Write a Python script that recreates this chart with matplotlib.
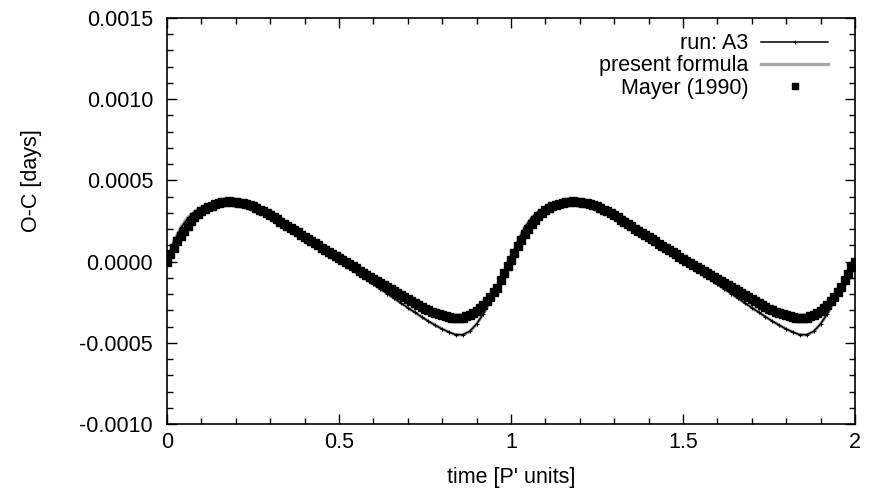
import numpy as np
import matplotlib
matplotlib.use("Agg")
import matplotlib.pyplot as plt
from matplotlib.ticker import MultipleLocator, FormatStrFormatter

plt.rcParams['font.family'] = ['Liberation Sans', 'DejaVu Sans']
plt.rcParams['axes.unicode_minus'] = False

# time axis (P' units): model curves every 0.02, Mayer points every 0.01
t = np.round(np.arange(0, 2.0001, 0.02), 2)
t_mayer = np.round(np.arange(0, 2.0001, 0.01), 2)

# O-C in units of 1e-4 days
mayer = [
    0.0, 0.45, 0.85, 1.25, 1.6, 1.9, 2.2, 2.5, 2.75, 2.95,
    3.1, 3.25, 3.35, 3.45, 3.55, 3.6, 3.65, 3.68, 3.7, 3.68,
    3.66, 3.63, 3.6, 3.55, 3.5, 3.4, 3.3, 3.2, 3.1, 2.98,
    2.85, 2.72, 2.6, 2.45, 2.3, 2.18, 2.05, 1.92, 1.8, 1.65,
    1.5, 1.38, 1.25, 1.12, 1.0, 0.85, 0.7, 0.58, 0.45, 0.32,
    0.2, 0.08, -0.05, -0.18, -0.3, -0.42, -0.55, -0.68, -0.8, -0.92,
    -1.05, -1.18, -1.3, -1.42, -1.55, -1.68, -1.8, -1.92, -2.05, -2.18,
    -2.3, -2.42, -2.55, -2.68, -2.8, -2.9, -3.0, -3.08, -3.15, -3.22,
    -3.3, -3.35, -3.4, -3.45, -3.5, -3.48, -3.45, -3.38, -3.3, -3.18,
    -3.05, -2.88, -2.7, -2.45, -2.2, -1.9, -1.6, -1.15, -0.7, -0.3,
    0.1, 0.55, 0.95, 1.35, 1.7, 2.0, 2.3, 2.55, 2.8, 3.0,
    3.15, 3.28, 3.4, 3.48, 3.55, 3.6, 3.65, 3.68, 3.7, 3.69,
    3.66, 3.63, 3.6, 3.54, 3.48, 3.4, 3.3, 3.2, 3.1, 2.97,
    2.85, 2.72, 2.58, 2.44, 2.3, 2.16, 2.03, 1.9, 1.78, 1.64,
    1.5, 1.37, 1.24, 1.1, 0.98, 0.84, 0.7, 0.57, 0.44, 0.31,
    0.18, 0.06, -0.07, -0.2, -0.32, -0.44, -0.56, -0.68, -0.8, -0.93,
    -1.05, -1.18, -1.3, -1.42, -1.55, -1.68, -1.8, -1.92, -2.05, -2.18,
    -2.3, -2.42, -2.55, -2.66, -2.78, -2.9, -3.0, -3.08, -3.15, -3.22,
    -3.3, -3.35, -3.4, -3.45, -3.48, -3.48, -3.45, -3.38, -3.3, -3.18,
    -3.05, -2.88, -2.68, -2.45, -2.2, -1.9, -1.55, -1.15, -0.75, -0.35,
    0.0,
]
run_a3 = [
    0.0, 1.2, 2.05, 2.65, 3.05, 3.3, 3.48, 3.6, 3.68, 3.7,
    3.66, 3.58, 3.45, 3.28, 3.08, 2.85, 2.6, 2.33, 2.06, 1.78,
    1.5, 1.22, 0.93, 0.64, 0.35, 0.06, -0.23, -0.52, -0.81, -1.1,
    -1.39, -1.68, -1.97, -2.26, -2.55, -2.84, -3.12, -3.4, -3.67, -3.92,
    -4.15, -4.35, -4.5, -4.5, -4.3, -3.85, -3.2, -2.4, -1.6, -0.8,
    0.1, 1.25, 2.1, 2.7, 3.08, 3.32, 3.5, 3.6, 3.68, 3.7,
    3.66, 3.58, 3.45, 3.28, 3.08, 2.85, 2.6, 2.33, 2.06, 1.78,
    1.5, 1.22, 0.93, 0.64, 0.35, 0.06, -0.23, -0.52, -0.81, -1.1,
    -1.39, -1.68, -1.97, -2.26, -2.55, -2.84, -3.12, -3.4, -3.67, -3.92,
    -4.15, -4.35, -4.5, -4.5, -4.3, -3.85, -3.2, -2.4, -1.6, -0.8,
    0.0,
]
formula = [
    0.0, 1.25, 2.1, 2.7, 3.08, 3.32, 3.5, 3.6, 3.68, 3.7,
    3.66, 3.58, 3.45, 3.28, 3.08, 2.85, 2.6, 2.33, 2.06, 1.78,
    1.5, 1.22, 0.93, 0.64, 0.35, 0.06, -0.23, -0.52, -0.81, -1.1,
    -1.39, -1.68, -1.97, -2.26, -2.55, -2.84, -3.12, -3.4, -3.67, -3.92,
    -4.15, -4.35, -4.52, -4.52, -4.3, -3.85, -3.2, -2.4, -1.6, -0.8,
    0.1, 1.25, 2.1, 2.7, 3.08, 3.32, 3.5, 3.6, 3.68, 3.7,
    3.66, 3.58, 3.45, 3.28, 3.08, 2.85, 2.6, 2.33, 2.06, 1.78,
    1.5, 1.22, 0.93, 0.64, 0.35, 0.06, -0.23, -0.52, -0.81, -1.1,
    -1.39, -1.68, -1.97, -2.26, -2.55, -2.84, -3.12, -3.4, -3.67, -3.92,
    -4.15, -4.35, -4.52, -4.52, -4.3, -3.85, -3.2, -2.4, -1.6, -0.8,
    0.0,
]

mayer = np.array(mayer) * 1e-4
run_a3 = np.array(run_a3) * 1e-4
formula = np.array(formula) * 1e-4

fs = 15.5

fig = plt.figure(figsize=(8.82, 4.97), dpi=100)
ax = fig.add_axes([0.1893, 0.1469, 0.780, 0.817])

ax.plot(t, run_a3, color='black', lw=1.1, marker='+', ms=3, mew=0.7,
        label='run: A3', zorder=5)
ax.plot(t, formula, color='#a8a8a8', lw=2.4, label='present formula', zorder=2)
ax.plot(t_mayer, mayer, ls='none', marker='s', ms=5.4, color='black',
        mec='black', label='Mayer (1990)', zorder=4)

ax.set_xlim(0, 2)
ax.set_ylim(-0.0010, 0.0015)
ax.xaxis.set_major_locator(MultipleLocator(0.5))
ax.xaxis.set_minor_locator(MultipleLocator(0.1))
ax.yaxis.set_major_locator(MultipleLocator(0.0005))
ax.yaxis.set_minor_locator(MultipleLocator(0.0001))
ax.xaxis.set_major_formatter(FormatStrFormatter('%g'))
ax.yaxis.set_major_formatter(FormatStrFormatter('%.4f'))
ax.tick_params(which='both', direction='in', top=True, right=True,
               labelsize=fs, width=1.0)
ax.tick_params(which='major', length=7)
ax.tick_params(which='minor', length=4)
ax.tick_params(axis='x', which='major', pad=6)
ax.tick_params(axis='y', which='major', pad=10)
for s in ax.spines.values():
    s.set_linewidth(1.2)

ax.set_xlabel("time [P' units]", fontsize=fs)
ax.set_ylabel('O-C [days]', fontsize=fs)
ax.xaxis.set_label_coords(0.5, -0.105)
ax.yaxis.set_label_coords(-0.182, 0.60)

leg = ax.legend(loc='upper right', bbox_to_anchor=(0.961, 0.962),
                frameon=False, markerfirst=False, fontsize=fs,
                handlelength=3.1, handletextpad=0.6, labelspacing=0.05,
                borderpad=0, borderaxespad=0)
leg.legend_handles[2].set_markersize(4.2)

fig.savefig('out.png', dpi=100)
